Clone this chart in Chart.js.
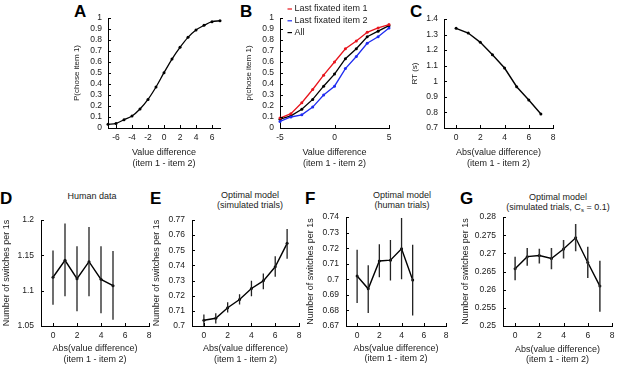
<!DOCTYPE html>
<html><head><meta charset="utf-8">
<script src="https://cdn.jsdelivr.net/npm/chart.js@4.4.1/dist/chart.umd.min.js"></script>
<style>
html,body{margin:0;padding:0;background:#fff;overflow:hidden;width:617px;height:366px;position:relative;font-family:"Liberation Sans",Arial,sans-serif;}
canvas{position:absolute;}
.lt{position:absolute;font-weight:bold;font-size:17px;line-height:17px;color:#000;}
.tt{position:absolute;font-size:9px;line-height:9.5px;color:#1a1a1a;text-align:center;width:160px;white-space:nowrap;}
.tt sub{font-size:6px;line-height:0;vertical-align:-2px;}
</style></head><body>
<div class="lt" style="left:74px;top:3px">A</div>
<div class="lt" style="left:240px;top:3px">B</div>
<div class="lt" style="left:410px;top:3px">C</div>
<div class="lt" style="left:0px;top:190px">D</div>
<div class="lt" style="left:150px;top:190px">E</div>
<div class="lt" style="left:305px;top:190px">F</div>
<div class="lt" style="left:460px;top:190px">G</div>
<div class="tt" style="left:12px;top:192px">Human data</div>
<div class="tt" style="left:170px;top:191px">Optimal model<br>(simulated trials)</div>
<div class="tt" style="left:322px;top:191px">Optimal model<br>(human trials)</div>
<div class="tt" style="left:478px;top:191.5px;line-height:10px">Optimal model<br>(simulated trials, C<sub>s</sub> = 0.1)</div>
<script>
// ---------- DATA ----------
// Panel A: psychometric curve
const aX = [-7,-6,-5,-4,-3,-2,-1,0,1,2,3,4,5,6,7];
const aY = [0.033,0.042,0.075,0.109,0.173,0.26,0.373,0.503,0.627,0.733,0.824,0.891,0.933,0.966,0.975];
const aXTicks = [-6,-4,-2,0,2,4,6];
const aYTicks = [0,0.1,0.2,0.3,0.4,0.5,0.6,0.7,0.8,0.9,1];
// Panel B
const bX = [-5,-4,-3,-2,-1,0,1,2,3,4,5];
const bLast1 = [0.09,0.13,0.23,0.35,0.48,0.60,0.72,0.79,0.87,0.91,0.94];
const bLast2 = [0.06,0.10,0.12,0.19,0.30,0.38,0.54,0.65,0.77,0.83,0.91];
const bAll   = [0.08,0.11,0.17,0.26,0.38,0.49,0.63,0.72,0.83,0.88,0.93];
const bXTicks = [-5,0,5];
const bYTicks = [0,0.1,0.2,0.3,0.4,0.5,0.6,0.7,0.8,0.9,1];
const bLabels = ['Last fixated item 1','Last fixated item 2','All'];
// Panel C
const cX = [0,1,2,3,4,5,6,7];
const cY = [1.34,1.31,1.25,1.17,1.085,0.965,0.88,0.79];
const cXTicks = [0,2,4,6,8];
const cYTicks = [0.7,0.8,0.9,1,1.1,1.2,1.3,1.4];
// Panel D
const dX = [0,1,2,3,4,5];
const dY  = [1.119,1.143,1.117,1.141,1.116,1.107];
const dLo = [1.080,1.092,1.071,1.092,1.068,1.059];
const dHi = [1.157,1.195,1.163,1.190,1.163,1.156];
const dYTicks = [1.05,1.1,1.15,1.2];
// Panel E
const eX = [0,1,2,3,4,5,6,7];
const eY  = [0.7038,0.7051,0.7121,0.7175,0.7248,0.7298,0.7391,0.7546];
const eLo = [0.7000,0.7016,0.7089,0.7142,0.7197,0.7243,0.7325,0.7444];
const eHi = [0.7076,0.7085,0.7157,0.7210,0.7298,0.7347,0.7460,0.7640];
const eYTicks = [0.7,0.71,0.72,0.73,0.74,0.75,0.76,0.77];
// Panel F
const fX = [0,1,2,3,4,5];
const fY  = [0.7021,0.6939,0.7118,0.7123,0.7197,0.6996];
const fLo = [0.6848,0.6784,0.7013,0.6992,0.7000,0.6767];
const fHi = [0.7190,0.7091,0.7226,0.7252,0.7395,0.7222];
const fYTicks = [0.67,0.68,0.69,0.7,0.71,0.72,0.73,0.74];
// Panel G
const gX = [0,1,2,3,4,5,6,7];
const gY  = [0.2658,0.2691,0.2694,0.2686,0.2712,0.2743,0.2675,0.2610];
const gLo = [0.2626,0.2666,0.2672,0.2656,0.2686,0.2706,0.2632,0.2539];
const gHi = [0.2691,0.2715,0.2713,0.2715,0.2737,0.2781,0.2718,0.2680];
const gYTicks = [0.25,0.255,0.26,0.265,0.27,0.275,0.28];
const absXTicks = [0,2,4,6,8];
// Axis titles
const xTitleVal = ['Value difference','(item 1 - item 2)'];
const xTitleAbs = ['Abs(value difference)','(item 1 - item 2)'];
const yTitleSwitch = 'Number of switches per 1s';

// ---------- RENDERING ----------
const FAM = '"Liberation Sans", Arial, sans-serif';
Chart.defaults.font.family = FAM;
Chart.defaults.color = '#1a1a1a';

const inTicks = {id:'inTicks', afterDraw(chart){
  const {ctx, chartArea:a, scales:{x,y}} = chart;
  ctx.save(); ctx.strokeStyle='#000'; ctx.lineWidth=1; ctx.beginPath();
  x.ticks.forEach(t=>{const p=Math.round(x.getPixelForValue(t.value))+0.5; ctx.moveTo(p,a.bottom); ctx.lineTo(p,a.bottom-3);});
  y.ticks.forEach(t=>{const p=Math.round(y.getPixelForValue(t.value))+0.5; ctx.moveTo(a.left,p); ctx.lineTo(a.left+3,p);});
  ctx.stroke(); ctx.restore();
}};
const errBars = {id:'errBars', afterDatasetsDraw(chart, args, o){
  if(!o || !o.lo) return;
  const {ctx, scales:{x,y}} = chart;
  ctx.save(); ctx.strokeStyle=o.color||'#222'; ctx.lineWidth=o.width||1.3; ctx.beginPath();
  o.xs.forEach((xv,i)=>{const p=x.getPixelForValue(xv); ctx.moveTo(p,y.getPixelForValue(o.lo[i])); ctx.lineTo(p,y.getPixelForValue(o.hi[i]));});
  ctx.stroke(); ctx.restore();
}};
const miniLegend = {id:'miniLegend', afterDraw(chart, args, o){
  if(!o || !o.show) return;
  const {ctx, chartArea:a} = chart;
  ctx.save(); ctx.font = '9px '+FAM; ctx.textBaseline='middle';
  chart.data.datasets.forEach((ds,i)=>{
    const yy = a.top + o.dy + i*o.gap;
    ctx.strokeStyle=ds.borderColor; ctx.lineWidth=1.2; ctx.beginPath();
    ctx.moveTo(a.left+o.dx, yy); ctx.lineTo(a.left+o.dx+o.len, yy); ctx.stroke();
    ctx.fillStyle='#1a1a1a'; ctx.fillText(ds.label, a.left+o.dx+o.len+2.5, yy);
  });
  ctx.restore();
}};

const fmt = v => String(Number(Number(v).toFixed(4)));

function panel(p){
  const padLt = 1, padRt = 8, padBt = 1;
  const off = 0.6*p.yts;
  const cl = Math.floor(p.ytx - off - padLt);
  const padL = p.ytx - off - cl;
  const ct = p.ct;
  const padT = p.rect.t - ct;
  const scaleBottom = p.xl2 + p.xlh/2;
  const H = Math.ceil(scaleBottom + padBt - ct);
  const padB = ct + H - scaleBottom;
  const W = Math.ceil(p.rect.r + padRt - cl);
  const padR = cl + W - p.rect.r;
  const yW = p.rect.l - cl - padL;
  const xH = scaleBottom - p.rect.b;
  const cv = document.createElement('canvas');
  cv.width = W; cv.height = H;
  cv.style.left = cl+'px'; cv.style.top = ct+'px';
  cv.style.width = W+'px'; cv.style.height = H+'px';
  document.body.appendChild(cv);
  const datasets = p.series.map(s=>({
    label: s.label || '',
    data: s.x.map((xv,i)=>({x:xv, y:s.y[i]})),
    borderColor: s.color, backgroundColor: s.color,
    borderWidth: p.lw || 1.3, pointRadius: 1.5, pointBorderWidth: 0,
    pointBackgroundColor: s.color, clip: false,
    cubicInterpolationMode: p.smooth ? 'monotone' : 'default', tension: 0
  }));
  return new Chart(cv, {
    type:'line',
    data:{datasets},
    plugins:[inTicks, errBars, miniLegend],
    options:{
      responsive:false, animation:false, devicePixelRatio:1,
      layout:{padding:{left:padL, right:padR, top:padT, bottom:padB}},
      plugins:{legend:{display:false}, tooltip:{enabled:false},
        errBars: p.err || {}, miniLegend: p.legend || {}},
      scales:{
        x:{type:'linear', min:p.xMin, max:p.xMax,
          afterBuildTicks: s=>{ s.ticks = p.xTicks.map(v=>({value:v})); },
          afterFit: s=>{ s.height = xH; },
          grid:{display:true, drawOnChartArea:false, drawTicks:false},
          border:{display:true, color:'#000', width:1},
          ticks:{font:{size:p.tks}, padding:5, maxRotation:0, autoSkip:false, callback:fmt},
          title:{display:true, text:p.xTitle, font:{size:9, lineHeight:p.xlh/9}, padding:{top:0,bottom:0}}
        },
        y:{type:'linear', min:p.yMin, max:p.yMax,
          afterBuildTicks: s=>{ s.ticks = p.yTicks.map(v=>({value:v})); },
          afterFit: s=>{ s.width = yW; },
          grid:{display:true, drawOnChartArea:false, drawTicks:false},
          border:{display:true, color:'#000', width:1},
          ticks:{font:{size:p.tks}, padding:p.ytp, autoSkip:false, callback:fmt},
          title:{display:true, text:p.yTitle, font:{size:p.yts, lineHeight:1.2}, padding:{top:0,bottom:0}}
        }
      }
    }
  });
}

panel({rect:{l:108,t:18,r:220,b:128}, ct:0, ytx:77, yts:8, xl2:164, xlh:11.3, tks:8.5, ytp:6,
  xMin:-7, xMax:7, xTicks:aXTicks, yMin:0, yMax:1, yTicks:aYTicks,
  yTitle:'P(chose item 1)', xTitle:xTitleVal, smooth:true,
  series:[{x:aX, y:aY, color:'#000'}]});

panel({rect:{l:280,t:18,r:389,b:128}, ct:0, ytx:249, yts:8, xl2:164, xlh:11.3, tks:8.5, ytp:6,
  xMin:-5, xMax:5, xTicks:bXTicks, yMin:0, yMax:1, yTicks:bYTicks,
  yTitle:'p(chose item 1)', xTitle:xTitleVal,
  legend:{show:true, dx:7.5, len:4.5, dy:-9, gap:11.8},
  series:[{x:bX, y:bLast1, color:'#e8141c', label:bLabels[0]},
          {x:bX, y:bLast2, color:'#1f2cf0', label:bLabels[1]},
          {x:bX, y:bAll, color:'#000', label:bLabels[2]}]});

panel({rect:{l:444,t:19,r:553,b:128}, ct:0, ytx:415, yts:8, xl2:164, xlh:11.3, tks:8.5, ytp:6,
  xMin:-1, xMax:8, xTicks:cXTicks, yMin:0.7, yMax:1.4, yTicks:cYTicks,
  yTitle:'RT (s)', xTitle:xTitleAbs, lw:1.4,
  series:[{x:cX, y:cY, color:'#000'}]});

panel({rect:{l:41,t:220,r:149,b:326}, ct:205, ytx:7, yts:9, xl2:359.5, xlh:10.8, tks:8.5, ytp:7,
  xMin:-1, xMax:8, xTicks:absXTicks, yMin:1.05, yMax:1.2, yTicks:dYTicks,
  yTitle:yTitleSwitch, xTitle:xTitleAbs, lw:1.4,
  err:{xs:dX, lo:dLo, hi:dHi, color:'#222', width:1.3},
  series:[{x:dX, y:dY, color:'#000'}]});

panel({rect:{l:192,t:220,r:299,b:326}, ct:205, ytx:157, yts:9, xl2:359.5, xlh:10.8, tks:8.5, ytp:7,
  xMin:-1, xMax:8, xTicks:absXTicks, yMin:0.7, yMax:0.77, yTicks:eYTicks,
  yTitle:yTitleSwitch, xTitle:xTitleAbs, lw:1.4,
  err:{xs:eX, lo:eLo, hi:eHi, color:'#222', width:1.3},
  series:[{x:eX, y:eY, color:'#000'}]});

panel({rect:{l:346,t:214,r:446,b:326}, ct:205, ytx:311, yts:9, xl2:359, xlh:10.8, tks:8.5, ytp:7,
  xMin:-1, xMax:8, xTicks:absXTicks, yMin:0.67, yMax:0.74, yTicks:fYTicks,
  yTitle:yTitleSwitch, xTitle:xTitleAbs, lw:1.4,
  err:{xs:fX, lo:fLo, hi:fHi, color:'#222', width:1.3},
  series:[{x:fX, y:fY, color:'#000'}]});

panel({rect:{l:503,t:214,r:612,b:326}, ct:205, ytx:466, yts:9, xl2:360, xlh:10.8, tks:8.5, ytp:7,
  xMin:-1, xMax:8, xTicks:absXTicks, yMin:0.25, yMax:0.28, yTicks:gYTicks,
  yTitle:yTitleSwitch, xTitle:xTitleAbs, lw:1.4,
  err:{xs:gX, lo:gLo, hi:gHi, color:'#333', width:1.5},
  series:[{x:gX, y:gY, color:'#000'}]});
</script>
</body></html>
